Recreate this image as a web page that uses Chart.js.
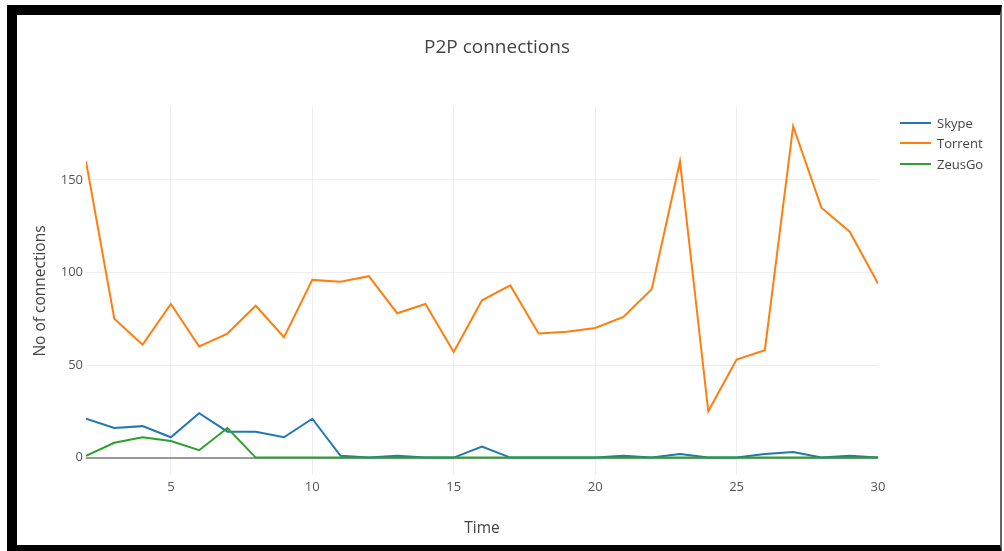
<!DOCTYPE html>
<html>
<head>
<meta charset="utf-8">
<title>P2P connections</title>
<script src="https://cdn.jsdelivr.net/npm/chart.js@4.4.0/dist/chart.umd.min.js"></script>
<style>
  html, body { margin: 0; padding: 0; background: #fff; overflow: hidden; }
  #wrap { position: relative; width: 1004px; height: 551px; }
  #chart { position: absolute; left: 0; top: 0; }
  #frame {
    position: absolute; left: 7px; top: 5px; width: 983px; height: 530px;
    border-left: 10px solid #000; border-top: 10px solid #000;
    border-bottom: 8px solid #000; border-right: 2px solid #666;
    pointer-events: none;
  }
  #title {
    position: absolute; left: 0; top: 34px; width: 994px; line-height: 24px;
    text-align: center; font-family: "Open Sans", sans-serif; font-size: 19px; color: #444;
  }
  .legend-row { position: absolute; left: 900px; height: 20px; width: 95px; }
  .legend-row .swatch { position: absolute; left: 0; top: 9px; width: 31px; height: 2px; }
  .legend-row .label {
    position: absolute; left: 37px; top: 0; line-height: 20px;
    font-family: "Open Sans", sans-serif; font-size: 13px; color: #444; white-space: nowrap;
  }
</style>
</head>
<body>
<div id="wrap">
  <canvas id="chart" width="1004" height="551"></canvas>
  <div id="title">P2P connections</div>
  <div id="legend"></div>
  <div id="frame"></div>
</div>
<script>
// time axis (x) and series values
const time = [2, 3, 4, 5, 6, 7, 8, 9, 10, 11, 12, 13, 14, 15, 16, 17, 18, 19, 20, 21, 22, 23, 24, 25, 26, 27, 28, 29, 30];
const skype = [21, 16, 17, 11, 24, 14, 14, 11, 21, 1, 0, 1, 0, 0, 6, 0, 0, 0, 0, 1, 0, 2, 0, 0, 2, 3, 0, 1, 0];
const torrent = [160, 75, 61, 83, 60, 67, 82, 65, 96, 95, 98, 78, 83, 57, 85, 93, 67, 68, 70, 76, 91, 160, 25, 53, 58, 179, 135, 122, 94];
const zeusGo = [1, 8, 11, 9, 4, 16, 0, 0, 0, 0, 0, 0, 0, 0, 0, 0, 0, 0, 0, 0, 0, 0, 0, 0, 0, 0, 0, 0, 0];

const seriesNames = ["Skype", "Torrent", "ZeusGo"];
const seriesColors = ["#1f77b4", "#ff7f0e", "#2ca02c"];
const xTicks = [5, 10, 15, 20, 25, 30];
const yTicks = [0, 50, 100, 150];

const seriesValues = [skype, torrent, zeusGo];

function toPoints(values) {
    return values.map(function (v, i) { return { x: time[i], y: v }; });
}

// legend, built from the same names/colours
const legend = document.getElementById("legend");
seriesNames.forEach(function (name, i) {
    let row = document.createElement("div");
    row.className = "legend-row";
    row.style.top = (113 + i * 20.3) + "px";
    let swatch = document.createElement("div");
    swatch.className = "swatch";
    swatch.style.background = seriesColors[i];
    let label = document.createElement("div");
    label.className = "label";
    label.textContent = name;
    row.appendChild(swatch);
    row.appendChild(label);
    legend.appendChild(row);
});

const tickFont = { family: "Open Sans", size: 13 };
const axisTitleFont = { family: "Open Sans", size: 15.5 };

const ctx = document.getElementById("chart").getContext("2d");
new Chart(ctx, {
    type: "line",
    data: {
        datasets: seriesNames.map(function (name, i) {
            return {
                label: name,
                data: toPoints(seriesValues[i]),
                borderColor: seriesColors[i],
                backgroundColor: seriesColors[i],
                borderWidth: 2,
                pointRadius: 0,
                tension: 0,
                fill: false,
                order: seriesNames.length - 1 - i
            };
        })
    },
    options: {
        responsive: false,
        animation: false,
        layout: { padding: { left: 17, right: 126, top: 107, bottom: 0 } },
        plugins: {
            legend: { display: false },
            title: { display: false },
            tooltip: { enabled: false }
        },
        scales: {
            x: {
                type: "linear",
                min: 2,
                max: 30,
                afterFit: function (scale) { scale.height = 76; },
                afterBuildTicks: function (scale) {
                    scale.ticks = xTicks.map(function (v) { return { value: v }; });
                },
                ticks: {
                    padding: 4,
                    color: "#555",
                    font: tickFont,
                    maxRotation: 0
                },
                grid: {
                    drawTicks: false,
                    color: function (c) { return c.tick && c.tick.value === 30 ? "rgba(0,0,0,0)" : "#eeeeee"; }
                },
                border: { display: false },
                title: {
                    display: true,
                    text: "Time",
                    color: "#444",
                    font: axisTitleFont,
                    padding: { top: 0, bottom: 13 }
                }
            },
            y: {
                min: -9.4,
                max: 189.4,
                afterFit: function (scale) { scale.width = 69; },
                afterBuildTicks: function (scale) {
                    scale.ticks = yTicks.map(function (v) { return { value: v }; });
                },
                ticks: {
                    padding: 3,
                    color: "#555",
                    font: tickFont
                },
                grid: {
                    drawTicks: false,
                    color: function (c) { return c.tick && c.tick.value === 0 ? "#999999" : "#eeeeee"; },
                    lineWidth: function (c) { return c.tick && c.tick.value === 0 ? 2 : 1; }
                },
                border: { display: false },
                title: {
                    display: true,
                    text: "No of connections",
                    color: "#444",
                    font: axisTitleFont,
                    padding: { top: 14, bottom: 0 }
                }
            }
        }
    }
});
</script>
</body>
</html>
